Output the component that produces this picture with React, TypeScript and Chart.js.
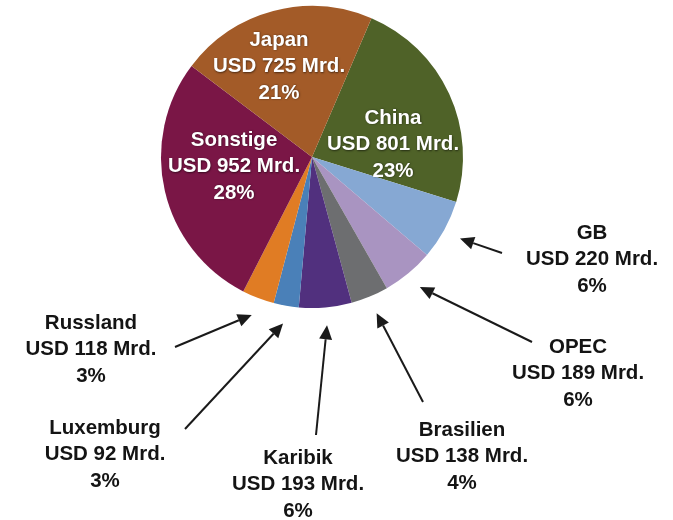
import React, { useEffect, useRef } from "react";
import { Chart, registerables } from "chart.js";

Chart.register(...registerables);

const countries = ["China", "GB", "OPEC", "Brasilien", "Karibik", "Luxemburg", "Russland", "Sonstige", "Japan"];
const amounts = [801, 220, 189, 138, 193, 92, 118, 952, 725];
const amountLabels = ["USD 801 Mrd.", "USD 220 Mrd.", "USD 189 Mrd.", "USD 138 Mrd.", "USD 193 Mrd.", "USD 92 Mrd.", "USD 118 Mrd.", "USD 952 Mrd.", "USD 725 Mrd."];
const percentLabels = ["23%", "6%", "6%", "4%", "6%", "3%", "3%", "28%", "21%"];
const sliceColors = ["#4F6228", "#86A8D3", "#A994C1", "#6D6E70", "#51307E", "#4A80B8", "#E07C24", "#7A1646", "#A35B28"];
const insideLabel = [true, false, false, false, false, false, false, true, true];

// layout: label anchor offsets (first line centre) relative to pie centre
const labelOffsets: number[][] = [[81, -39], [280, 76], [266, 190], [150, 273], [-14, 301], [-207, 271], [-221, 166], [-78, -17], [-33, -117]];
// layout: arrow tail offsets relative to pie centre (null = no arrow)
const arrowTails: (number[] | null)[] = [null, [190, 96], [220, 185], [111, 245], [4, 278], [-127, 272], [-137, 190], null, null];

const FONT = "bold 20.5px Arial, \"Liberation Sans\", sans-serif";
const LINE_H = 26.5;

const labelPlugin = {
  id: "calloutLabels",
  afterDraw(chart: any) {
    const ctx = chart.ctx as CanvasRenderingContext2D;
    const meta = chart.getDatasetMeta(0);
    ctx.save();
    ctx.font = FONT;
    ctx.textAlign = "center";
    ctx.textBaseline = "middle";
    meta.data.forEach((arc: any, i: number) => {
      const cx = arc.x;
      const cy = arc.y;
      const r = arc.outerRadius;
      const [ox, oy] = labelOffsets[i];
      const lines = [countries[i], amountLabels[i], percentLabels[i]];
      if (insideLabel[i]) {
        ctx.save();
        ctx.fillStyle = "#ffffff";
        ctx.shadowColor = "rgba(0,0,0,0.55)";
        ctx.shadowBlur = 2;
        ctx.shadowOffsetX = 0.5;
        ctx.shadowOffsetY = 0.5;
        lines.forEach((t, k) => ctx.fillText(t, cx + ox, cy + oy + k * LINE_H));
        ctx.restore();
      } else {
        ctx.fillStyle = "#141414";
        lines.forEach((t, k) => ctx.fillText(t, cx + ox, cy + oy + k * LINE_H));
      }
      const tail = arrowTails[i];
      if (tail) {
        const mid = (arc.startAngle + arc.endAngle) / 2;
        const tipR = r + 18;
        const tx = cx + Math.cos(mid) * tipR;
        const ty = cy + Math.sin(mid) * tipR;
        const sx = cx + tail[0];
        const sy = cy + tail[1];
        const ang = Math.atan2(ty - sy, tx - sx);
        const headLen = 14;
        const headW = 6.5;
        const bx = tx - Math.cos(ang) * headLen;
        const by = ty - Math.sin(ang) * headLen;
        ctx.strokeStyle = "#1a1a1a";
        ctx.lineWidth = 2;
        ctx.beginPath();
        ctx.moveTo(sx, sy);
        ctx.lineTo(bx, by);
        ctx.stroke();
        ctx.fillStyle = "#1a1a1a";
        ctx.beginPath();
        ctx.moveTo(tx, ty);
        ctx.lineTo(bx + Math.cos(ang + Math.PI / 2) * headW, by + Math.sin(ang + Math.PI / 2) * headW);
        ctx.lineTo(bx - Math.cos(ang + Math.PI / 2) * headW, by - Math.sin(ang + Math.PI / 2) * headW);
        ctx.closePath();
        ctx.fill();
      }
    });
    ctx.restore();
  },
};

export default function App() {
  const canvasRef = useRef<HTMLCanvasElement | null>(null);

  useEffect(() => {
    document.body.style.margin = "0";
    const canvas = canvasRef.current;
    if (!canvas) return;
    const chart = new Chart(canvas, {
      type: "pie",
      data: {
        labels: countries,
        datasets: [
          {
            data: amounts,
            backgroundColor: sliceColors,
            borderWidth: 0,
          },
        ],
      },
      options: {
        animation: false,
        responsive: true,
        maintainAspectRatio: false,
        rotation: 23.2,
        layout: { padding: { left: 161, top: 6, right: 210, bottom: 212 } },
        plugins: {
          legend: { display: false },
          tooltip: { enabled: false },
        },
      },
      plugins: [labelPlugin],
    });
    return () => chart.destroy();
  }, []);

  return (
    <div style={{ position: "relative", width: 673, height: 520, background: "#ffffff" }}>
      <canvas ref={canvasRef} />
    </div>
  );
}
